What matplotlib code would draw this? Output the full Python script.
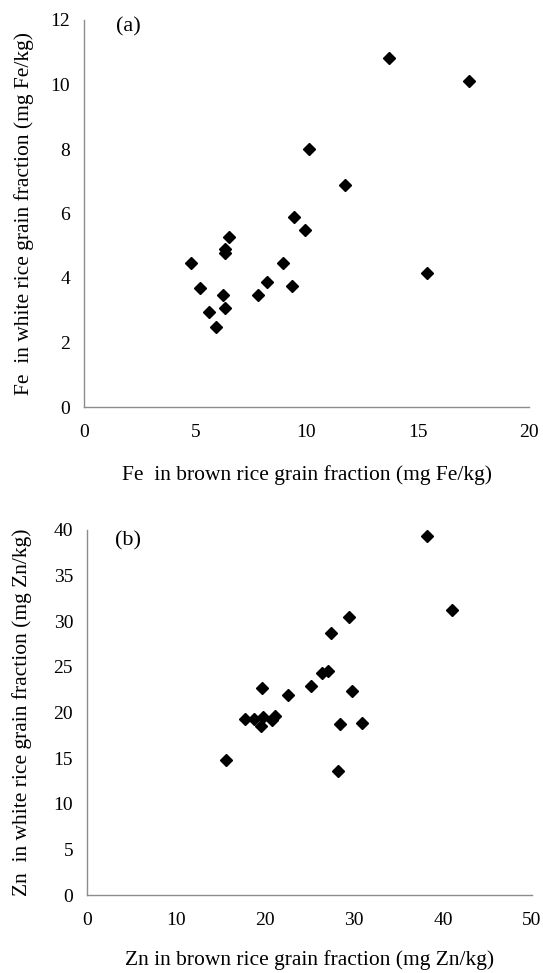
import matplotlib
matplotlib.use("Agg")
import matplotlib.pyplot as plt

fe_brown = [13.71, 17.32, 10.13, 11.71, 9.42, 9.92, 6.53, 6.32, 6.32, 4.82,
            8.93, 15.40, 8.22, 9.33, 5.23, 6.23, 7.82, 6.34, 5.63, 5.95]
fe_white = [10.81, 10.11, 7.99, 6.88, 5.88, 5.48, 5.27, 4.89, 4.76, 4.47,
            4.47, 4.17, 3.87, 3.76, 3.68, 3.46, 3.46, 3.06, 2.96, 2.47]

zn_brown = [29.47, 27.38, 26.40, 27.04, 25.20, 29.81, 19.63, 22.62, 17.72, 18.73,
            19.74, 19.51, 20.75, 21.09, 28.39, 30.94, 15.66, 28.20, 41.00, 38.17]
zn_white = [30.47, 28.68, 24.36, 24.58, 22.90, 22.32, 22.65, 21.92, 19.29, 19.29,
            19.47, 18.56, 19.18, 19.65, 18.70, 18.88, 14.83, 13.55, 31.27, 39.38]

fe_xticks = [0, 5, 10, 15, 20]
fe_yticks = [0, 2, 4, 6, 8, 10, 12]
zn_xticks = [0, 10, 20, 30, 40, 50]
zn_yticks = [0, 5, 10, 15, 20, 25, 30, 35, 40]

plt.rcParams['font.family'] = ['Liberation Serif', 'DejaVu Serif']

W, H = 543, 973
fig = plt.figure(figsize=(W / 100, H / 100), dpi=100)

def make_ax(l, r, t, b):
    return fig.add_axes([l / W, 1 - b / H, (r - l) / W, (b - t) / H])

ax1 = make_ax(84, 529, 20, 407)
ax2 = make_ax(87, 532, 530, 895)

spine_col = '#8c8c8c'
for ax, xs, ys, xt, yt, xl, yl, tag, tagpos, ylc, xlc in [
    (ax1, fe_brown, fe_white, fe_xticks, fe_yticks,
     'Fe  in brown rice grain fraction (mg Fe/kg)',
     'Fe  in white rice grain fraction (mg Fe/kg)', '(a)', (2.0, 11.8), -0.135, -0.175),
    (ax2, zn_brown, zn_white, zn_xticks, zn_yticks,
     'Zn in brown rice grain fraction (mg Zn/kg)',
     'Zn  in white rice grain fraction (mg Zn/kg)', '(b)', (4.6, 38.8), -0.145, -0.178),
]:
    ax.plot(xs, ys, linestyle='none', marker='D', ms=6, color='black', clip_on=False)
    ax.set_xlim(xt[0], xt[-1])
    ax.set_ylim(yt[0], yt[-1])
    ax.set_xticks(xt)
    ax.set_yticks(yt)
    ax.tick_params(length=0, labelsize=14)
    ax.tick_params(axis='y', pad=10)
    ax.tick_params(axis='x', pad=12)
    for s in ['top', 'right']:
        ax.spines[s].set_visible(False)
    for s in ['left', 'bottom']:
        ax.spines[s].set_color(spine_col)
        ax.spines[s].set_linewidth(1.0)
    ax.set_xlabel(xl, fontsize=15.5)
    ax.set_ylabel(yl, fontsize=15.5)
    ax.yaxis.set_label_coords(ylc, 0.5)
    ax.xaxis.set_label_coords(0.5, xlc)
    ax.xaxis.label.set_va('center')
    ax.yaxis.label.set_va('center')
    ax.text(tagpos[0], tagpos[1], tag, fontsize=16, va='center', ha='center')

fig.savefig('out.png', dpi=100)
